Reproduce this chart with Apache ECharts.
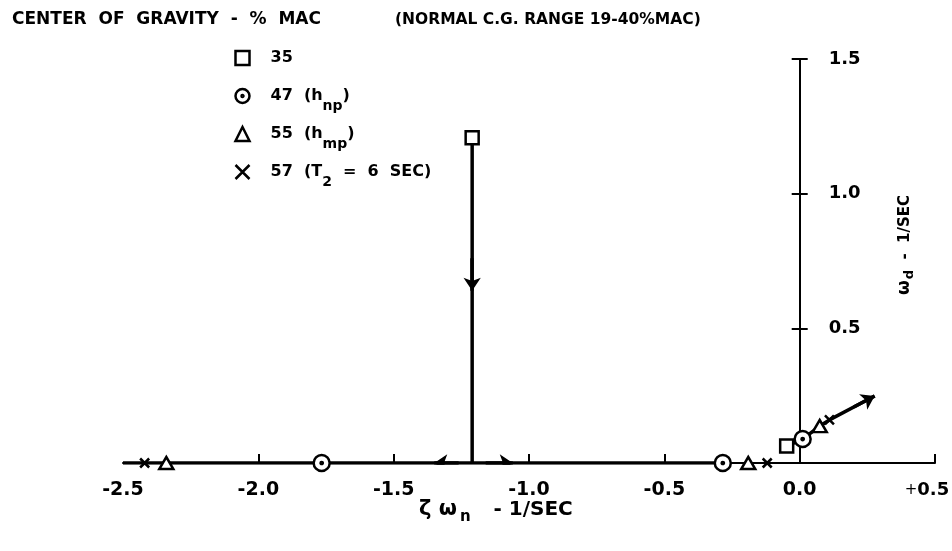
<!DOCTYPE html>
<html><head><meta charset="utf-8">
<script src="https://cdn.jsdelivr.net/npm/echarts@6/dist/echarts.min.js"></script>
<style>html,body{margin:0;padding:0;background:#fff}#c{width:952px;height:551px}</style>
</head><body><div id="c"></div>
<script>
// ---- data ----
const xTickMarks = [-2.0, -1.5, -1.0, -0.5, 0.5];
const yTickValues = [0.5, 1.0, 1.5];
const seriesNames = ['35', '47 (hnp)', '55 (hmp)', '57 (T2 = 6 SEC)'];
const cg35 = [[-1.21, 1.208], [-0.048, 0.063]];
const cg47 = [[-1.766, 0], [-0.284, 0], [0.011, 0.089]];
const cg55 = [[-2.34, 0], [-0.19, 0], [0.074, 0.137]];
const cg57 = [[-2.42, 0], [-0.12, 0], [0.11, 0.16]];
const locusVertical = [[-1.21, 1.19], [-1.21, 0]];
const locusReal = [[-2.5, 0], [-0.284, 0]];
const locusComplex = [[-0.048, 0.063], [0.011, 0.089], [0.074, 0.137], [0.11, 0.16], [0.277, 0.249]];
const arrowSegments = [
  [[-1.21, 0.76], [-1.21, 0.64]],
  [[-1.16, 0], [-1.06, 0]],
  [[-1.26, 0], [-1.35, 0]],
  [[0.2, 0.208], [0.277, 0.249]]
];
// ---- chart ----
const FONT = 'DejaVu Sans';
const legendText = {
  '35': '35',
  '47 (hnp)': '47  (h{sub|np})',
  '55 (hmp)': '55  (h{sub|mp})',
  '57 (T2 = 6 SEC)': '57  (T{sub|2}  =  6  SEC)'
};
const circleDot = 'path://M10,0A10,10,0,1,1,9.99,0ZM10,8.6A1.4,1.4,0,1,1,9.99,8.6Z';
const xMark = 'path://M0,0L10,10M10,0L0,10';
const sym = {color: '#fff', borderColor: '#000', borderWidth: 2.5, opacity: 1};
const lineSty = {color: '#000', width: 3.5};
const Y_OFFSET = -135.3; // y axis sits at x = 0, which is 0.5 units left of the grid's right edge

const chart = echarts.init(document.getElementById('c'), null, {renderer: 'canvas'});
chart.setOption({
  backgroundColor: '#fff',
  animation: false,
  textStyle: {fontFamily: FONT, color: '#000'},
  grid: {left: 123, right: 17, top: 59, bottom: 88, containLabel: false, outerBoundsMode: 'none'},
  graphic: [
    {type: 'text', left: 12, top: 11, style: {text: 'CENTER  OF  GRAVITY  -  %  MAC', fill: '#000', font: 'bold 17px "DejaVu Sans"'}},
    {type: 'text', left: 395, top: 12, style: {text: '(NORMAL C.G. RANGE 19-40%MAC)', fill: '#000', font: 'bold 15.5px "DejaVu Sans"'}},
    {type: 'text', left: 419, top: 499, style: {
      text: '{g|ζ ω}{sub|n}{m|   - 1/SEC}', fill: '#000',
      rich: {
        g: {fontFamily: FONT, fontWeight: 'bold', fontSize: 21, fill: '#000'},
        m: {fontFamily: FONT, fontWeight: 'bold', fontSize: 20, fill: '#000'},
        sub: {fontFamily: FONT, fontWeight: 'bold', fontSize: 15, fill: '#000', padding: [15, 2, 0, 3]}
      }}},
    {type: 'text', x: 905, y: 245, rotation: Math.PI / 2, style: {
      text: '{g|ω}{sub|d}{m|  -  1/SEC}', fill: '#000', align: 'center', verticalAlign: 'middle',
      textAlign: 'center', textVerticalAlign: 'middle',
      rich: {
        g: {fontFamily: FONT, fontWeight: 'bold', fontSize: 17, fill: '#000'},
        m: {fontFamily: FONT, fontWeight: 'bold', fontSize: 15, fill: '#000'},
        sub: {fontFamily: FONT, fontWeight: 'bold', fontSize: 13, fill: '#000', padding: [10, 0, 0, 1]}
      }}}
  ],
  legend: {
    data: seriesNames, orient: 'vertical', left: 228, top: 35,
    itemWidth: 14, itemHeight: 14, itemGap: 2,
    selectedMode: false,
    itemStyle: {borderColor: '#000', borderWidth: 2.5, opacity: 1},
    formatter: n => legendText[n],
    textStyle: {fontFamily: FONT, fontWeight: 'bold', fontSize: 16, lineHeight: 36, color: '#000', padding: [0, 0, 0, 16],
      rich: {sub: {fontFamily: FONT, fontWeight: 'bold', fontSize: 14, lineHeight: 14, color: '#000', padding: [21, 0, 1, 0]}}}
  },
  xAxis: {
    type: 'value', min: -2.5, max: 0.5, interval: 0.5,
    axisLine: {onZero: false, lineStyle: {color: '#000', width: 2}},
    axisTick: {show: true, inside: true, length: 9, customValues: xTickMarks, lineStyle: {color: '#000', width: 2}},
    axisLabel: {margin: 18, color: '#000', fontFamily: FONT, fontWeight: 'bold', fontSize: 19,
      formatter: v => v > 0 ? '{p|+}{q|' + v.toFixed(1) + '}' : v.toFixed(1),
      rich: {
        p: {fontFamily: FONT, fontWeight: 'normal', fontSize: 15, color: '#000'},
        q: {fontFamily: FONT, fontWeight: 'bold', fontSize: 18, color: '#000', padding: [0, 16, 0, 0]}
      }},
    splitLine: {show: false}
  },
  yAxis: [{
    type: 'value', min: 0, max: 1.5, interval: 0.5, position: 'right', offset: Y_OFFSET,
    axisLine: {onZero: false, lineStyle: {color: '#000', width: 2}},
    axisTick: {show: true, inside: false, length: 8, customValues: yTickValues, lineStyle: {color: '#000', width: 2}},
    axisLabel: {margin: 29, color: '#000', fontFamily: FONT, fontWeight: 'bold', fontSize: 18,
      customValues: yTickValues, formatter: v => v.toFixed(1)},
    splitLine: {show: false}
  }, {
    type: 'value', min: 0, max: 1.5, interval: 0.5, position: 'right', offset: Y_OFFSET,
    axisLine: {onZero: false, lineStyle: {color: '#000', width: 2}},
    axisTick: {show: true, inside: true, length: 8, customValues: yTickValues, lineStyle: {color: '#000', width: 2}},
    axisLabel: {show: false},
    splitLine: {show: false}
  }],
  series: [
    {type: 'line', data: locusReal, symbol: 'none', lineStyle: lineSty, z: 2, silent: true},
    {type: 'line', data: locusVertical, symbol: 'none', lineStyle: lineSty, z: 2, silent: true},
    {type: 'line', data: locusComplex, symbol: 'none', lineStyle: lineSty, z: 2, silent: true},
    {type: 'lines', coordinateSystem: 'cartesian2d', symbol: ['none', 'arrow'], symbolSize: 13,
      lineStyle: {color: '#000', width: 3.5, opacity: 1}, z: 3,
      data: arrowSegments.map(c => ({coords: c}))},
    {name: seriesNames[0], type: 'scatter', data: cg35, symbol: 'rect', symbolSize: 13, itemStyle: sym, z: 5},
    {name: seriesNames[1], type: 'scatter', data: cg47, symbol: circleDot, symbolSize: 16, itemStyle: sym, z: 5},
    {name: seriesNames[2], type: 'scatter', data: cg55, symbol: 'triangle', symbolSize: [14, 12], itemStyle: sym, z: 5},
    {name: seriesNames[3], type: 'scatter', data: cg57, symbol: xMark, symbolSize: 9, itemStyle: {color: 'none', borderColor: '#000', borderWidth: 2.5, opacity: 1}, z: 5}
  ]
});
</script></body></html>
